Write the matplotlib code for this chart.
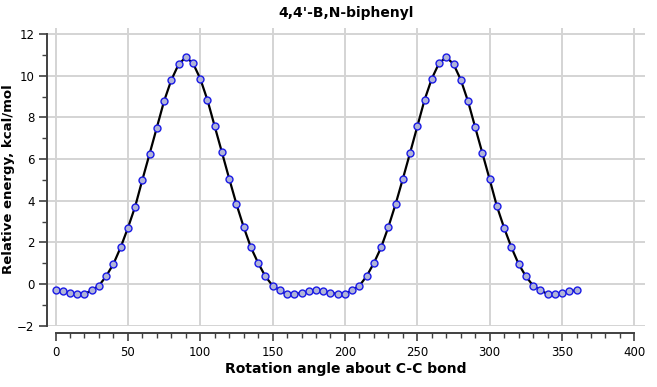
import numpy as np
import matplotlib.pyplot as plt
from matplotlib.ticker import MultipleLocator

# rotation angle (deg) and relative energy (kcal/mol)
angle = list(range(0, 361, 5))
energy = [-0.30, -0.35, -0.42, -0.48, -0.48, -0.30, -0.08, 0.38, 0.96, 1.76,
          2.69, 3.71, 5.00, 6.25, 7.51, 8.78, 9.79, 10.54, 10.89, 10.60,
          9.86, 8.83, 7.57, 6.32, 5.06, 3.84, 2.74, 1.76, 1.01, 0.37,
          -0.08, -0.30, -0.50, -0.50, -0.42, -0.35, -0.30, -0.35, -0.42, -0.48,
          -0.48, -0.30, -0.08, 0.38, 1.01, 1.76, 2.74, 3.84, 5.05, 6.30,
          7.57, 8.84, 9.86, 10.60, 10.89, 10.56, 9.81, 8.78, 7.52, 6.27,
          5.02, 3.73, 2.69, 1.76, 0.96, 0.37, -0.08, -0.30, -0.48, -0.48,
          -0.42, -0.35, -0.30]

fig = plt.figure(figsize=(6.57, 3.87), dpi=100)
ax = fig.add_axes([0.0715, 0.1584, 0.9102, 0.7692])

ax.plot(angle, energy, color='black', lw=1.6, zorder=2)
ax.plot(angle, energy, 'o', ms=5, mfc='#b0b4d8', mec='#1a1ae6', mew=1.0,
        zorder=3)

ax.set_xlim(-5.9, 407.3)
ax.set_ylim(-2.0, 12.29)
ax.xaxis.set_major_locator(MultipleLocator(50))
ax.xaxis.set_minor_locator(MultipleLocator(10))
ax.yaxis.set_major_locator(MultipleLocator(2))
ax.yaxis.set_minor_locator(MultipleLocator(1))

ax.grid(True, which='major', color='#d4d4d4', lw=1.4, zorder=0)
ax.set_axisbelow(True)

for s in ['top', 'right']:
    ax.spines[s].set_visible(False)
ax.spines['bottom'].set_position(('outward', 5.5))
ax.spines['bottom'].set_bounds(0, 400)
ax.spines['left'].set_bounds(-2, 12)
for s in ['bottom', 'left']:
    ax.spines[s].set_color('#404040')
    ax.spines[s].set_linewidth(1.4)

ax.tick_params(which='major', length=6, width=1.2, color='#404040',
               labelsize=8.5, pad=3)
ax.tick_params(which='minor', length=3.5, width=1.0, color='#404040')

ax.set_title("4,4'-B,N-biphenyl", fontsize=10, fontweight='bold', pad=8)
ax.set_xlabel('Rotation angle about C-C bond', fontsize=10,
              fontweight='bold', labelpad=2)
ax.set_ylabel('Relative energy, kcal/mol', fontsize=9.5, fontweight='bold')
ax.yaxis.set_label_coords(-0.054, 0.493)

fig.savefig('out.png', dpi=100)
